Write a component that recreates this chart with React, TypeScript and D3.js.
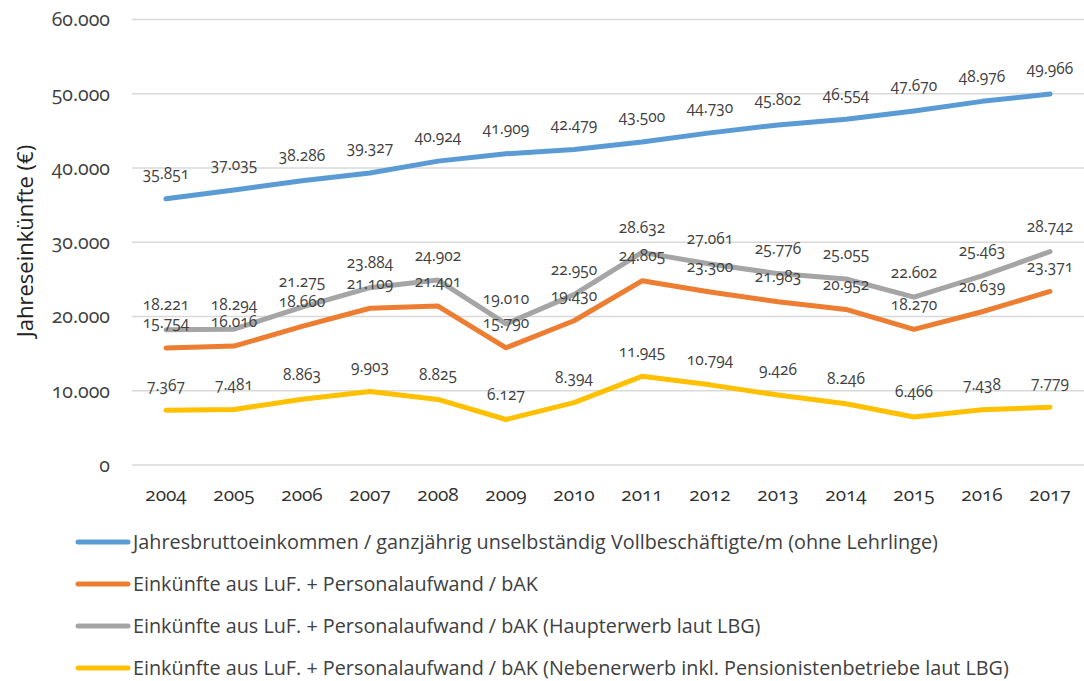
import React from 'react';
import * as d3 from 'd3';

const years = ['2004', '2005', '2006', '2007', '2008', '2009', '2010', '2011', '2012', '2013', '2014', '2015', '2016', '2017'];

const bruttoeinkommen = [35851, 37035, 38286, 39327, 40924, 41909, 42479, 43500, 44730, 45802, 46554, 47670, 48976, 49966];
const einkuenfteGesamt = [15754, 16016, 18660, 21109, 21401, 15790, 19430, 24805, 23300, 21983, 20952, 18270, 20639, 23371];
const einkuenfteHaupt = [18221, 18294, 21275, 23884, 24902, 19010, 22950, 28632, 27061, 25776, 25055, 22602, 25463, 28742];
const einkuenfteNeben = [7367, 7481, 8863, 9903, 8825, 6127, 8394, 11945, 10794, 9426, 8246, 6466, 7438, 7779];

const yTicks = [0, 10000, 20000, 30000, 40000, 50000, 60000];

const seriesNames = [
  'Jahresbruttoeinkommen / ganzjährig unselbständig Vollbeschäftigte/m (ohne Lehrlinge)',
  'Einkünfte aus LuF. + Personalaufwand / bAK',
  'Einkünfte aus LuF. + Personalaufwand / bAK (Haupterwerb laut LBG)',
  'Einkünfte aus LuF. + Personalaufwand / bAK (Nebenerwerb inkl. Pensionistenbetriebe laut LBG)',
];

const W = 1084;
const H = 681;
const textColor = '#404040';
const numFont = '"Open Sans", "Noto Sans", sans-serif';

const de = d3.formatLocale({ decimal: ',', thousands: '.', grouping: [3], currency: ['', ' €'] });
const fmt = de.format(',d');

const App = () => {
  const x = d3.scalePoint<string>().domain(years).range([132, W]).padding(0.5);
  const y = d3.scaleLinear().domain([0, 60000]).range([465, 19.5]);

  // Reihenfolge wie im Original: blau, orange, grau, gelb
  const series = [
    { name: seriesNames[0], values: bruttoeinkommen, color: '#5B9BD5' },
    { name: seriesNames[1], values: einkuenfteGesamt, color: '#ED7D31' },
    { name: seriesNames[2], values: einkuenfteHaupt, color: '#A5A5A5' },
    { name: seriesNames[3], values: einkuenfteNeben, color: '#FFC000' },
  ];

  const line = d3.line<number>()
    .x((_, i) => x(years[i]) as number)
    .y(d => y(d));

  return (
    <svg width={W} height={H} style={{ position: 'absolute', left: 0, top: 0, background: '#fff' }}>
      {/* Gitterlinien + Achsenbeschriftung */}
      <g>
        {yTicks.map(t => (
          <g key={t}>
            <line x1={132} x2={W} y1={y(t)} y2={y(t)} stroke="#d9d9d9" strokeWidth={1.5} />
            <text x={110} y={y(t)} dy="0.35em" textAnchor="end" fontFamily={numFont}
              fontSize={19.5} fill={textColor} style={{ fontVariantNumeric: 'oldstyle-nums' }}>
              {fmt(t)}
            </text>
          </g>
        ))}
        {years.map(yr => (
          <text key={yr} x={x(yr)} y={494} dy="0.35em" textAnchor="middle" fontFamily={numFont}
            fontSize={19} fill="#303030" style={{ fontVariantNumeric: 'oldstyle-nums' }}>
            {yr}
          </text>
        ))}
        <text transform={`translate(25,241) rotate(-90)`} textAnchor="middle" dy="0.35em"
          fontFamily={numFont} fontSize={22} fill="#222">
          Jahreseinkünfte (€)
        </text>
      </g>

      {/* Linien */}
      <g>
        {series.map(s => (
          <path key={s.name} d={line(s.values) || ''} fill="none" stroke={s.color}
            strokeWidth={5} strokeLinejoin="round" strokeLinecap="round" />
        ))}
      </g>

      {/* Datenbeschriftungen */}
      <g>
        {series.map(s => s.values.map((v, i) => (
          <text key={s.name + i} x={x(years[i])} y={y(v) - 25} dy="0.35em" textAnchor="middle"
            fontFamily={numFont} fontSize={15.5} fill={textColor}
            style={{ fontVariantNumeric: 'oldstyle-nums' }}>
            {fmt(v)}
          </text>
        )))}
      </g>

      {/* Legende */}
      <g>
        {series.map((s, i) => {
          const ly = 542 + i * 42;
          return (
            <g key={s.name}>
              <line x1={78} x2={128} y1={ly} y2={ly} stroke={s.color} strokeWidth={5} strokeLinecap="round" />
              <text x={133} y={ly} dy="0.35em" fontFamily={numFont} fontSize={19.8} fill={textColor}>
                {s.name}
              </text>
            </g>
          );
        })}
      </g>
    </svg>
  );
};

export default App;
